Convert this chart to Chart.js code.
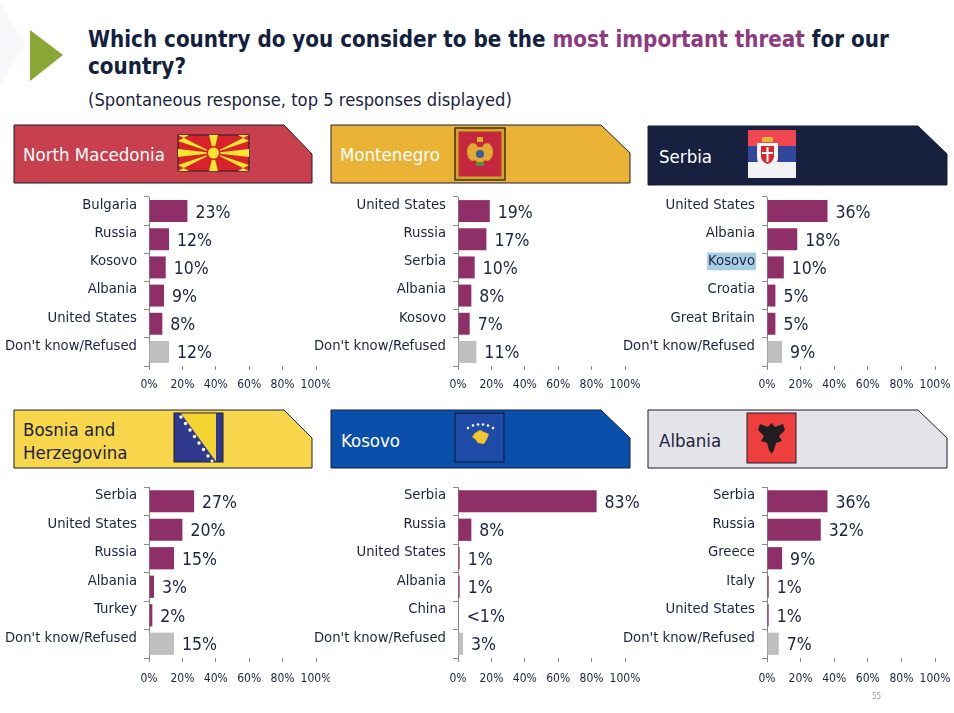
<!DOCTYPE html>
<html>
<head>
<meta charset="utf-8">
<script src="https://cdn.jsdelivr.net/npm/chart.js@4/dist/chart.umd.min.js"></script>
<style>
  html, body { margin: 0; padding: 0; background: #ffffff; }
  body { width: 954px; height: 713px; position: relative; overflow: hidden;
         font-family: "DejaVu Sans Condensed", "DejaVu Sans", sans-serif; color: #1b2340; }
  #bg { position: absolute; left: 0; top: 0; }
  .title { position: absolute; left: 88px; top: 26px; font-size: 22.2px; font-weight: bold; line-height: 27px; color: #13213f; width: 840px; }
  .title .hl { color: #8e3a80; }
  .sub { position: absolute; left: 88px; top: 89px; font-size: 18.2px; color: #1b2340; white-space: nowrap; }
  .hdr { position: absolute; font-size: 18.5px; line-height: 23px; white-space: nowrap; }
  canvas.c { position: absolute; }
  .pg { position: absolute; left: 872px; top: 692px; font-size: 8px; color: #9a9aa6; }
</style>
</head>
<body>
<script>
// ---- data ----
const nmCategories = ["Bulgaria", "Russia", "Kosovo", "Albania", "United States", "Don't know/Refused"];
const nmValues = [23, 12, 10, 9, 8, 12];
const nmLabels = ["23%", "12%", "10%", "9%", "8%", "12%"];

const meCategories = ["United States", "Russia", "Serbia", "Albania", "Kosovo", "Don't know/Refused"];
const meValues = [19, 17, 10, 8, 7, 11];
const meLabels = ["19%", "17%", "10%", "8%", "7%", "11%"];

const rsCategories = ["United States", "Albania", "Kosovo", "Croatia", "Great Britain", "Don't know/Refused"];
const rsValues = [36, 18, 10, 5, 5, 9];
const rsLabels = ["36%", "18%", "10%", "5%", "5%", "9%"];

const baCategories = ["Serbia", "United States", "Russia", "Albania", "Turkey", "Don't know/Refused"];
const baValues = [27, 20, 15, 3, 2, 15];
const baLabels = ["27%", "20%", "15%", "3%", "2%", "15%"];

const xkCategories = ["Serbia", "Russia", "United States", "Albania", "China", "Don't know/Refused"];
const xkValues = [83, 8, 1, 1, 0.4, 3];
const xkLabels = ["83%", "8%", "1%", "1%", "<1%", "3%"];

const alCategories = ["Serbia", "Russia", "Greece", "Italy", "United States", "Don't know/Refused"];
const alValues = [36, 32, 9, 1, 1, 7];
const alLabels = ["36%", "32%", "9%", "1%", "1%", "7%"];

const xTickValues = [0, 20, 40, 60, 80, 100];
</script>

<svg id="bg" width="954" height="713" xmlns="http://www.w3.org/2000/svg">
  <!-- decorative triangle -->
  <polygon points="0,4 26,44 0,84" fill="#f7f7f9"/>
  <polygon points="30,30 63,55 30,81" fill="#8aa634"/>

  <!-- header shapes -->
  <polygon points="14,125 284,125 312,154 312,183 14,183" fill="#c8404d" stroke="#1a1f30" stroke-width="1"/>
  <polygon points="331,125 601,125 630,153 630,183 331,183" fill="#eab336" stroke="#1a1f30" stroke-width="1"/>
  <polygon points="648,126 918,126 947,154 947,185 648,185" fill="#17213f" stroke="#1a1f30" stroke-width="1"/>
  <polygon points="14,410 284,410 312,438 312,468 14,468" fill="#f7d64b" stroke="#1a1f30" stroke-width="1"/>
  <polygon points="331,410 601,410 630,438 630,468 331,468" fill="#0b4fad" stroke="#1a1f30" stroke-width="1"/>
  <polygon points="648,410 918,410 947,438 947,468 648,468" fill="#e4e4e8" stroke="#1a1f30" stroke-width="1"/>

  <!-- North Macedonia flag -->
  <g>
    <rect x="178" y="135" width="71" height="36" fill="#d8232a" stroke="#1a1f30" stroke-width="1"/>
    <polygon points="213.5,153 178,149 178,157" fill="#f8e62e"/>
    <polygon points="213.5,153 249,149 249,157" fill="#f8e62e"/>
    <polygon points="213.5,153 209,135 218,135" fill="#f8e62e"/>
    <polygon points="213.5,153 209,171 218,171" fill="#f8e62e"/>
    <polygon points="213.5,153 178,135 189,135 178,141" fill="#f8e62e"/>
    <polygon points="213.5,153 249,135 238,135 249,141" fill="#f8e62e"/>
    <polygon points="213.5,153 178,171 189,171 178,165" fill="#f8e62e"/>
    <polygon points="213.5,153 249,171 238,171 249,165" fill="#f8e62e"/>
    <circle cx="213.5" cy="153" r="7" fill="#d8232a"/>
    <circle cx="213.5" cy="153" r="5.5" fill="#f8e62e"/>
  </g>

  <!-- Montenegro flag -->
  <g>
    <rect x="455" y="128" width="50" height="52" fill="#d6a424" stroke="#14181f" stroke-width="1.2"/>
    <rect x="458.5" y="131.5" width="43" height="45" fill="#c4283e"/>
    <ellipse cx="473" cy="152" rx="6" ry="9" fill="#e0a930"/>
    <ellipse cx="487" cy="152" rx="6" ry="9" fill="#e0a930"/>
    <rect x="477" y="137" width="6" height="5" fill="#e0a930"/>
    <ellipse cx="480" cy="155" rx="6" ry="8" fill="#e0a930"/>
    <circle cx="480" cy="154" r="4" fill="#3a5aa0"/>
    <rect x="476" y="162" width="8" height="4" fill="#5a8a3a"/>
  </g>

  <!-- Serbia flag -->
  <g>
    <rect x="748" y="130" width="48" height="16" fill="#ef4650"/>
    <rect x="748" y="146" width="48" height="16" fill="#30479c"/>
    <rect x="748" y="162" width="48" height="16" fill="#f2f2f4"/>
    <rect x="762" y="137" width="11" height="5" fill="#e3b43a"/>
    <path d="M757,143 h21 v14 c0,6 -4,10 -10.5,12 c-6.5,-2 -10.5,-6 -10.5,-12 z" fill="#f4f4f4"/>
    <path d="M761,146 h13 v10 c0,4 -3,7 -6.5,8 c-3.5,-1 -6.5,-4 -6.5,-8 z" fill="#d8262e"/>
    <rect x="766.5" y="147" width="2" height="15" fill="#ffffff"/>
    <rect x="762" y="152" width="11" height="2" fill="#ffffff"/>
  </g>

  <!-- Bosnia flag -->
  <g>
    <rect x="174" y="413" width="49" height="49" fill="#2f3a8e" stroke="#1a1f30" stroke-width="1"/>
    <polygon points="181,413.5 216,413.5 216,461.5" fill="#f5d431"/>
    <circle cx="181" cy="417" r="1.7" fill="#fff"/>
    <circle cx="185.5" cy="423.5" r="1.7" fill="#fff"/>
    <circle cx="190" cy="430" r="1.7" fill="#fff"/>
    <circle cx="194.5" cy="436.5" r="1.7" fill="#fff"/>
    <circle cx="199" cy="443" r="1.7" fill="#fff"/>
    <circle cx="203.5" cy="449.5" r="1.7" fill="#fff"/>
    <circle cx="208" cy="456" r="1.7" fill="#fff"/>
    <circle cx="212" cy="461" r="1.5" fill="#fff"/>
  </g>

  <!-- Kosovo flag -->
  <g>
    <rect x="455" y="413" width="49" height="49" fill="#1f4ba8" stroke="#0c1530" stroke-width="1"/>
    <circle cx="468" cy="428" r="1.3" fill="#fff"/>
    <circle cx="473" cy="425.5" r="1.3" fill="#fff"/>
    <circle cx="478" cy="424.5" r="1.3" fill="#fff"/>
    <circle cx="483" cy="424.5" r="1.3" fill="#fff"/>
    <circle cx="488" cy="425.5" r="1.3" fill="#fff"/>
    <circle cx="493" cy="428" r="1.3" fill="#fff"/>
    <polygon points="475,433 480,430 484,432 489,434 487,439 484,444 478,443 475,439 472,437" fill="#f2c52c"/>
  </g>

  <!-- Albania flag -->
  <g>
    <rect x="747" y="413" width="49" height="50" fill="#ef3e3e" stroke="#1a1f30" stroke-width="1"/>
    <polygon points="771.5,423 768,427 760,424 758,430 764,436 761,441 767,443 769,450 771.5,454 774,450 776,443 782,441 779,436 785,430 783,424 775,427" fill="#1e1e22"/>
  </g>
</svg>

<div class="title">Which country do you consider to be the <span class="hl">most important threat</span> for our country?</div>
<div class="sub">(Spontaneous response, top 5 responses displayed)</div>

<div class="hdr" style="left:23px; top:143px; color:#ffffff;">North Macedonia</div>
<div class="hdr" style="left:340px; top:143px; color:#ffffff;">Montenegro</div>
<div class="hdr" style="left:659px; top:145px; color:#ffffff;">Serbia</div>
<div class="hdr" style="left:23px; top:418px; color:#1b2340;">Bosnia and<br>Herzegovina</div>
<div class="hdr" style="left:341px; top:429px; color:#ffffff;">Kosovo</div>
<div class="hdr" style="left:659px; top:429px; color:#1b2340;">Albania</div>

<canvas class="c" id="c1" width="330" height="206" style="left:0px; top:190px;"></canvas>
<canvas class="c" id="c2" width="343" height="206" style="left:300px; top:190px;"></canvas>
<canvas class="c" id="c3" width="344" height="206" style="left:610px; top:190px;"></canvas>
<canvas class="c" id="c4" width="330" height="208" style="left:0px; top:480px;"></canvas>
<canvas class="c" id="c5" width="343" height="208" style="left:300px; top:480px;"></canvas>
<canvas class="c" id="c6" width="344" height="208" style="left:610px; top:480px;"></canvas>

<div class="pg">55</div>

<script>
const FONT = '"DejaVu Sans Condensed", "DejaVu Sans", sans-serif';
const TEXT = '#1b2340';
const AXIS = '#8a8a8a';
const PURPLE = '#8e2f68';
const GREY = '#bfbfbf';

const valueLabelPlugin = {
  id: 'valueLabels',
  afterDatasetsDraw(chart) {
    const ctx = chart.ctx;
    const labels = chart.options.plugins.valueLabels.labels;
    const meta = chart.getDatasetMeta(0);
    ctx.save();
    ctx.font = '17.5px ' + FONT;
    ctx.fillStyle = TEXT;
    ctx.textAlign = 'left';
    ctx.textBaseline = 'middle';
    meta.data.forEach((bar, i) => {
      ctx.fillText(labels[i], bar.x + 8, bar.y + 2);
    });
    ctx.restore();
  }
};

function makeChart(id, categories, values, labels, yWidth, rightPad, xPad, highlightIndex) {
  const colors = values.map((v, i) => i === values.length - 1 ? GREY : PURPLE);
  new Chart(document.getElementById(id), {
    type: 'bar',
    data: {
      labels: categories,
      datasets: [{
        data: values,
        backgroundColor: colors,
        borderWidth: 0,
        barPercentage: 0.78,
        categoryPercentage: 1.0
      }]
    },
    plugins: [valueLabelPlugin],
    options: {
      indexAxis: 'y',
      responsive: false,
      animation: false,
      devicePixelRatio: 1,
      layout: { padding: { top: 7, right: rightPad, left: 0, bottom: 0 } },
      plugins: {
        legend: { display: false },
        tooltip: { enabled: false },
        valueLabels: { labels: labels }
      },
      scales: {
        x: {
          min: 0, max: 100,
          afterBuildTicks(scale) { scale.ticks = xTickValues.map(v => ({ value: v })); },
          afterFit(scale) { scale.height = 30; scale.paddingLeft = 0; scale.paddingRight = 0; },
          ticks: {
            callback: v => v + '%',
            color: TEXT,
            font: { family: FONT, size: 12 },
            padding: xPad,
            maxRotation: 0,
            autoSkip: false
          },
          grid: { drawOnChartArea: false, drawTicks: true, tickLength: 4, color: AXIS },
          border: { display: false }
        },
        y: {
          afterFit(scale) { scale.width = yWidth; scale.paddingTop = 0; scale.paddingBottom = 0; },
          ticks: {
            color: TEXT,
            font: { family: FONT, size: 14.7 },
            padding: 7,
            labelOffset: -6,
            autoSkip: false,
            showLabelBackdrop: highlightIndex !== undefined,
            backdropColor: c => (c.index === highlightIndex ? '#a6cde2' : 'rgba(0,0,0,0)'),
            backdropPadding: { top: 0, bottom: 0, left: 1, right: 1 }
          },
          grid: { drawOnChartArea: false, drawTicks: true, tickLength: 5, color: AXIS, offset: true },
          border: { display: true, color: AXIS }
        }
      }
    }
  });
}

makeChart('c1', nmCategories, nmValues, nmLabels, 149, 14, 8);
makeChart('c2', meCategories, meValues, meLabels, 158, 18, 8);
makeChart('c3', rsCategories, rsValues, rsLabels, 157, 19, 8, 2);
makeChart('c4', baCategories, baValues, baLabels, 149, 14, 10);
makeChart('c5', xkCategories, xkValues, xkLabels, 158, 18, 10);
makeChart('c6', alCategories, alValues, alLabels, 157, 19, 10);
</script>
</body>
</html>
